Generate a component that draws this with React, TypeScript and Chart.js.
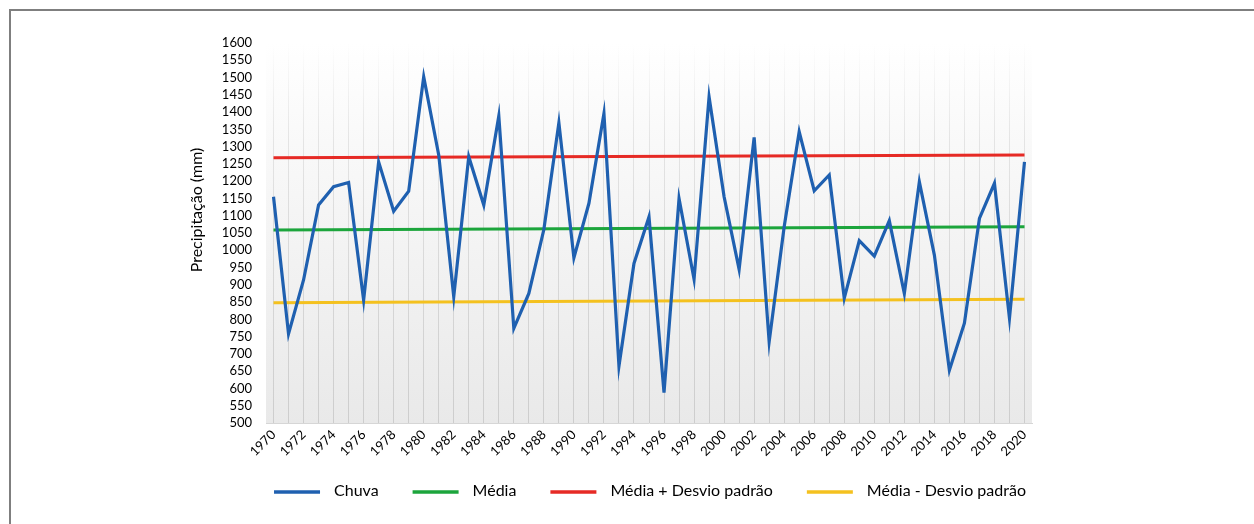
import React, { useEffect, useRef } from 'react';
import { Chart, registerables } from 'chart.js';

Chart.register(...registerables);

const years = [
  '1970', '1971', '1972', '1973', '1974', '1975', '1976', '1977', '1978', '1979',
  '1980', '1981', '1982', '1983', '1984', '1985', '1986', '1987', '1988', '1989',
  '1990', '1991', '1992', '1993', '1994', '1995', '1996', '1997', '1998', '1999',
  '2000', '2001', '2002', '2003', '2004', '2005', '2006', '2007', '2008', '2009',
  '2010', '2011', '2012', '2013', '2014', '2015', '2016', '2017', '2018', '2019',
  '2020',
];

const chuva = [
  1155, 758, 914, 1131, 1184, 1196, 856, 1256, 1113, 1171,
  1502, 1276, 866, 1271, 1131, 1389, 774, 875, 1060, 1369,
  978, 1136, 1396, 665, 962, 1097, 588, 1150, 916, 1444,
  1155, 945, 1327, 735, 1068, 1343, 1172, 1218, 861, 1028,
  983, 1086, 875, 1198, 986, 653, 789, 1092, 1194, 803,
  1256,
];

// Reference lines: value at first year and at last year
const media = [1059, 1068];
const mediaMaisDesvio = [1268, 1276];
const mediaMenosDesvio = [848, 858];

const yAxisTitle = 'Precipitação (mm)';
const seriesLabels = ['Chuva', 'Média', 'Média + Desvio padrão', 'Média - Desvio padrão'];
const seriesColors = ['#1f60b0', '#1ca53c', '#e62a25', '#f4c11f'];

const FONT = 'Lato, "Open Sans", sans-serif';

function endpoints(pair: number[]) {
  return years.map((_, i) => (i === 0 ? pair[0] : i === years.length - 1 ? pair[1] : null));
}

const bgPlugin = {
  id: 'plotBg',
  beforeDraw(chart: any) {
    const a = chart.chartArea;
    if (!a) return;
    const ctx = chart.ctx;
    const g = ctx.createLinearGradient(0, a.top, 0, a.bottom);
    g.addColorStop(0, '#ffffff');
    g.addColorStop(0.35, '#f7f7f7');
    g.addColorStop(1, '#e9e9e9');
    ctx.save();
    ctx.fillStyle = g;
    ctx.fillRect(a.left, a.top, a.right - a.left, a.bottom - a.top);
    ctx.restore();
  },
};

const titlePlugin = {
  id: 'yTitle',
  afterDraw(chart: any) {
    const ctx = chart.ctx;
    ctx.save();
    ctx.translate(197, 210);
    ctx.rotate(-Math.PI / 2);
    ctx.font = `16px ${FONT}`;
    ctx.fillStyle = '#000000';
    ctx.textAlign = 'center';
    ctx.textBaseline = 'middle';
    ctx.fillText(yAxisTitle, 0, 0);
    ctx.restore();
  },
};

const legendPlugin = {
  id: 'customLegend',
  afterDraw(chart: any) {
    const ctx = chart.ctx;
    const ds = chart.data.datasets;
    const sample = 46;
    const gapText = 14;
    const gapItem = 34;
    const y = 492;
    ctx.save();
    ctx.font = `16px ${FONT}`;
    const widths = ds.map((d: any) => sample + gapText + ctx.measureText(d.label).width);
    const total = widths.reduce((s: number, w: number) => s + w, 0) + gapItem * (ds.length - 1);
    let x = 650 - total / 2;
    ds.forEach((d: any, i: number) => {
      ctx.strokeStyle = d.borderColor;
      ctx.lineWidth = 3.5;
      ctx.beginPath();
      ctx.moveTo(x, y);
      ctx.lineTo(x + sample, y);
      ctx.stroke();
      ctx.fillStyle = '#000000';
      ctx.textAlign = 'left';
      ctx.textBaseline = 'middle';
      ctx.fillText(d.label, x + sample + gapText, y - 1);
      x += widths[i] + gapItem;
    });
    ctx.restore();
  },
};

export default function App() {
  const ref = useRef<HTMLCanvasElement>(null);

  useEffect(() => {
    if (!ref.current) return;
    const chart = new Chart(ref.current, {
      type: 'line',
      data: {
        labels: years,
        datasets: [
          {
            label: seriesLabels[0],
            data: chuva,
            borderColor: seriesColors[0],
            backgroundColor: seriesColors[0],
            borderWidth: 3.2,
            pointRadius: 0,
            tension: 0,
            order: 0,
          },
          {
            label: seriesLabels[1],
            data: endpoints(media),
            borderColor: seriesColors[1],
            backgroundColor: seriesColors[1],
            borderWidth: 3,
            pointRadius: 0,
            spanGaps: true,
            order: 1,
          },
          {
            label: seriesLabels[2],
            data: endpoints(mediaMaisDesvio),
            borderColor: seriesColors[2],
            backgroundColor: seriesColors[2],
            borderWidth: 3,
            pointRadius: 0,
            spanGaps: true,
            order: 1,
          },
          {
            label: seriesLabels[3],
            data: endpoints(mediaMenosDesvio),
            borderColor: seriesColors[3],
            backgroundColor: seriesColors[3],
            borderWidth: 3,
            pointRadius: 0,
            spanGaps: true,
            order: 1,
          },
        ] as any,
      },
      options: {
        animation: false,
        responsive: false,
        devicePixelRatio: 1,
        layout: { padding: { left: 180, right: 222, top: 43, bottom: 51 } },
        plugins: {
          legend: { display: false },
          tooltip: { enabled: false },
        },
        scales: {
          x: {
            offset: true,
            afterFit: (s: any) => {
              s.height = 50;
            },
            grid: {
              display: true,
              drawTicks: false,
              lineWidth: 1,
              color: (c: any) => {
                const a = c.chart.chartArea;
                if (!a) return '#d4d4d4';
                const g = c.chart.ctx.createLinearGradient(0, a.top, 0, a.bottom);
                g.addColorStop(0, 'rgba(208,208,208,0)');
                g.addColorStop(0.25, 'rgba(208,208,208,0.5)');
                g.addColorStop(1, 'rgba(205,205,205,1)');
                return g;
              },
            },
            border: { display: true, color: '#d6d6d6' },
            ticks: {
              autoSkip: false,
              minRotation: 45,
              maxRotation: 45,
              padding: 4,
              color: '#000000',
              font: { family: FONT, size: 13 },
              callback: (_v: any, i: number) => (i % 2 === 0 ? years[i] : ''),
            },
          },
          y: {
            min: 500,
            max: 1600,
            afterFit: (s: any) => {
              s.width = 86;
            },
            grid: { display: false, drawTicks: false },
            border: { display: false },
            ticks: {
              stepSize: 50,
              maxTicksLimit: 100,
              autoSkip: false,
              padding: 14,
              color: '#000000',
              font: { family: FONT, size: 13 },
              callback: (v: any) => String(v),
            },
          },
        },
      },
      plugins: [bgPlugin, titlePlugin, legendPlugin],
    });
    return () => chart.destroy();
  }, []);

  return (
    <div style={{ position: 'fixed', left: 0, top: 0, width: 1254, height: 524, background: '#ffffff' }}>
      <div
        style={{
          position: 'absolute',
          left: 9,
          top: 9,
          right: 0,
          bottom: 0,
          borderLeft: '2px solid #7f7f7f',
          borderTop: '2px solid #7f7f7f',
        }}
      />
      <canvas ref={ref} width={1254} height={524} style={{ position: 'absolute', left: 0, top: 0 }} />
    </div>
  );
}
